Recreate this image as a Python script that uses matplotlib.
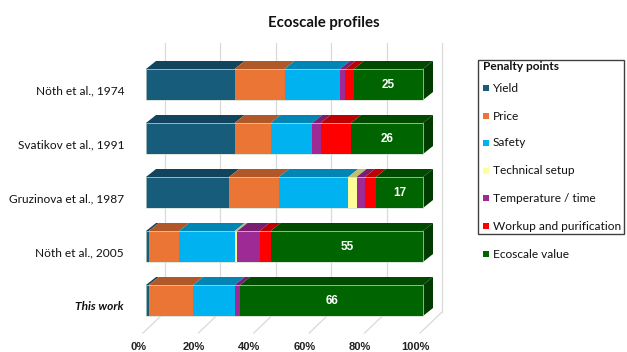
import matplotlib
matplotlib.use("Agg")
import matplotlib.pyplot as plt
from matplotlib.patches import Polygon, Rectangle
import numpy as np

categories = ["Nöth et al., 1974", "Svatikov et al., 1991", "Gruzinova et al., 1987",
              "Nöth et al., 2005", "This work"]
series = ["Yield", "Price", "Safety", "Technical setup", "Temperature / time",
          "Workup and purification", "Ecoscale value"]
yield_pts = [32, 32, 30, 1, 1]
price_pts = [18, 13, 18, 11, 16]
safety_pts = [20, 15, 25, 20, 15]
setup_pts = [0, 0, 3, 1, 0]
temp_pts = [2, 3, 3, 8, 2]
workup_pts = [3, 11, 4, 4, 0]
ecoscale = [25, 26, 17, 55, 66]
ticks = [0, 20, 40, 60, 80, 100]

colors = ["#185C7C", "#EB7535", "#00B2F0", "#FFFF99", "#9E2A96", "#FF0000", "#006400"]

W, H = 627, 352
fig = plt.figure(figsize=(W / 100, H / 100), dpi=100)
ax = fig.add_axes([0, 0, 1, 1])

# pixel geometry of the 3d look
x0px, pxx = 146, 2.77      # 0% front face, px per percent
y0px, pxy = 84.5, 54       # first bar centre, px per row
ax.set_xlim(-x0px / pxx, (W - x0px) / pxx)
ax.set_ylim((H - y0px) / pxy, -y0px / pxy)
ax.axis("off")

def fx(px):
    return px / W

def fy(py):
    return 1 - py / H

bar_h = 31 / pxy
dx, dy = 10 / pxx, 8 / pxy        # bar depth
wx = 19 / pxx                     # back wall offset
wall_top, wall_bot = (43 - y0px) / pxy, (312 - y0px) / pxy
floor_front = (333 - y0px) / pxy

def shade(c, f):
    r, g, b = matplotlib.colors.to_rgb(c)
    return (r * f, g * f, b * f)

# back wall and floor grid
for t in ticks:
    ax.plot([t + wx, t + wx], [wall_top, wall_bot], color="#D9D9D9", lw=0.9, zorder=0)
    ax.plot([t + wx, t + wx - 22 / pxx], [wall_bot, floor_front], color="#D9D9D9",
            lw=0.9, zorder=0)
    ax.text(t - 8 / pxx, (347 - y0px) / pxy, f"{t}%", ha="center", va="center",
            fontsize=8, fontweight="bold", family="Liberation Sans", color="#222222")

data = np.array([yield_pts, price_pts, safety_pts, setup_pts, temp_pts, workup_pts, ecoscale])

for i, cat in enumerate(categories):
    top = i - bar_h / 2
    bot = i + bar_h / 2
    left = 0
    for k in range(len(series)):
        v = data[k, i]
        if v <= 0:
            continue
        right = left + v
        ax.add_patch(Rectangle((left, top), v, bar_h, facecolor=colors[k],
                               edgecolor="none", zorder=2))
        ax.add_patch(Polygon([(left, top), (right, top), (right + dx, top - dy),
                              (left + dx, top - dy)], closed=True,
                             facecolor=shade(colors[k], 0.75), edgecolor="none", zorder=2))
        left = right
    # right side face of last segment
    ax.add_patch(Polygon([(left, top), (left + dx, top - dy), (left + dx, bot - dy),
                          (left, bot)], closed=True,
                         facecolor=shade(colors[-1], 0.6), edgecolor="none", zorder=2))
    ax.add_patch(Rectangle((0, top), 100, bar_h, facecolor="none",
                           edgecolor="#D0DDD0", lw=0.5, zorder=3))
    ax.text(100 - ecoscale[i] / 2, i, str(ecoscale[i]), ha="center", va="center",
            color="white", fontsize=8.5, fontweight="bold", family="Liberation Sans", zorder=4)
    bold_it = cat == "This work"
    ax.text((124 - x0px) / pxx, i + 0.12, cat, ha="right", va="center", fontsize=8.6,
            family="Lato", color="#111111",
            fontweight="bold" if bold_it else "normal",
            fontstyle="italic" if bold_it else "normal")

fig.text(fx(324), fy(23), "Ecoscale profiles", ha="center", va="center",
         fontsize=10.8, fontweight="bold", family="Lato", color="#111111")

# legend
fig.patches.append(Rectangle((fx(478), fy(234)), fx(624) - fx(478), fy(60) - fy(234),
                             transform=fig.transFigure, facecolor="white",
                             edgecolor="#404040", lw=1.0))
fig.text(fx(483), fy(67), "Penalty points", ha="left", va="center", fontsize=8.6,
         fontweight="bold", family="Lato", color="#111111")
leg_y = [88, 116, 143, 171, 198, 226, 254]
for k, name in enumerate(series):
    fig.patches.append(Rectangle((fx(483), fy(leg_y[k] + 3)), fx(6), fy(0) - fy(6),
                                 transform=fig.transFigure, facecolor=colors[k],
                                 edgecolor="none"))
    fig.text(fx(493), fy(leg_y[k]), name, ha="left", va="center", fontsize=8.6,
             family="Lato", color="#111111")

fig.savefig("out.png", dpi=100)
